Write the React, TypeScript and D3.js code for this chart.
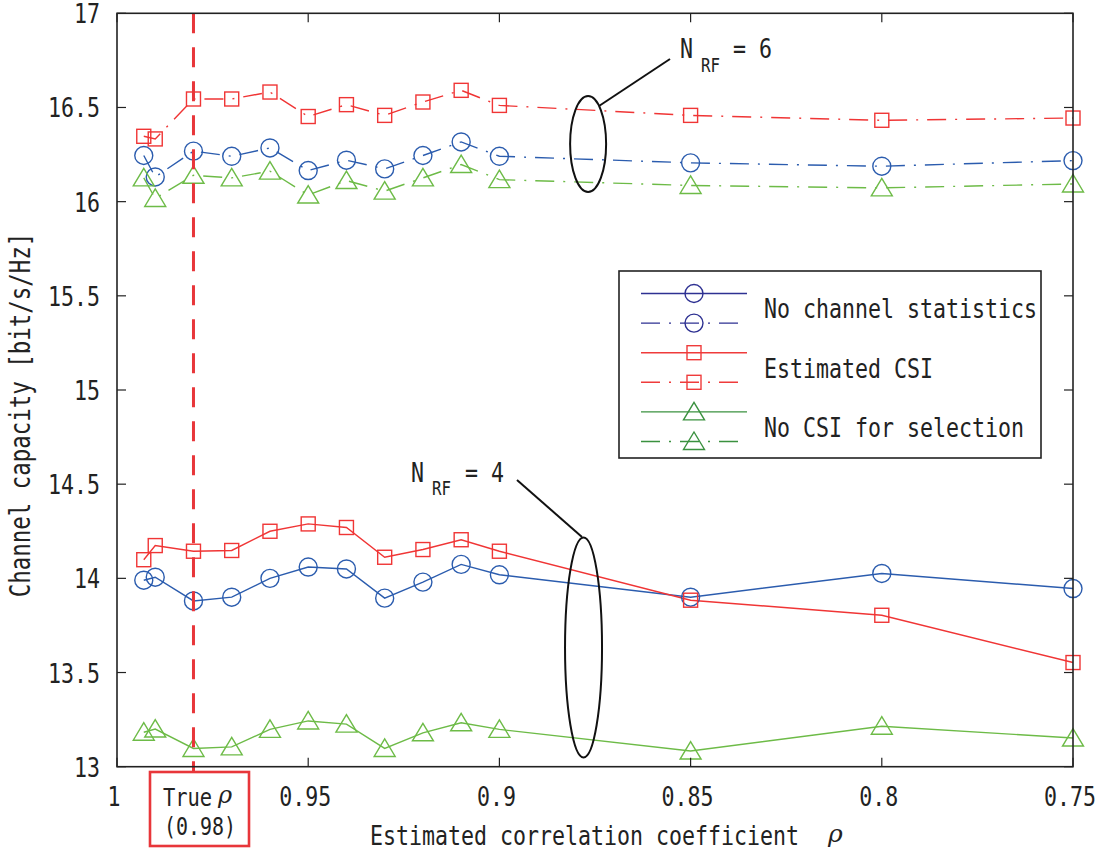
import React from "react";
import * as d3 from "d3";

// ---------- data ----------
const rhoEstimated = [0.993, 0.99, 0.98, 0.97, 0.96, 0.95, 0.94, 0.93, 0.92, 0.91, 0.9, 0.85, 0.8, 0.75];

// N_RF = 4
const nrf4NoStats = [13.99, 14.006, 13.88, 13.9, 14.0, 14.06, 14.05, 13.895, 13.98, 14.074, 14.019, 13.9, 14.026, 13.946];
const nrf4EstCSI = [14.099, 14.174, 14.144, 14.148, 14.25, 14.289, 14.27, 14.112, 14.153, 14.205, 14.144, 13.884, 13.804, 13.553];
const nrf4NoCSI = [13.183, 13.2, 13.097, 13.105, 13.198, 13.243, 13.226, 13.097, 13.18, 13.233, 13.198, 13.083, 13.215, 13.152];

// N_RF = 6
const nrf6NoStats = [16.245, 16.131, 16.268, 16.241, 16.285, 16.165, 16.22, 16.174, 16.245, 16.317, 16.241, 16.206, 16.188, 16.218];
const nrf6EstCSI = [16.347, 16.333, 16.545, 16.545, 16.582, 16.452, 16.515, 16.458, 16.529, 16.591, 16.511, 16.458, 16.432, 16.444];
const nrf6NoCSI = [16.126, 16.017, 16.14, 16.126, 16.162, 16.035, 16.112, 16.056, 16.126, 16.197, 16.117, 16.086, 16.073, 16.094];

const xTicks = [1, 0.95, 0.9, 0.85, 0.8, 0.75];
const xTickLabels = ["1", "0.95", "0.9", "0.85", "0.8", "0.75"];
const yTicks = [13, 13.5, 14, 14.5, 15, 15.5, 16, 16.5, 17];
const yTickLabels = ["13", "13.5", "14", "14.5", "15", "15.5", "16", "16.5", "17"];

const legendLabels = ["No channel statistics", "Estimated CSI", "No CSI for selection"];
const trueRho = 0.98;

// ---------- style ----------
const BLUE = "#2b5cae";
const RED = "#f03535";
const GREEN = "#6dbb47";
const L_BLUE = "#2e3192";
const L_RED = "#ef3b3b";
const L_GREEN = "#3a913f";
const DASHDOT = "19,9,2,9";
const FONT = "'DejaVu Sans Mono', 'Liberation Mono', monospace";
const SERIF = "'DejaVu Serif', 'Liberation Serif', serif";

const W = 1104;
const H = 852;
const x = d3.scaleLinear().domain([1, 0.75]).range([117, 1073]);
const y = d3.scaleLinear().domain([13, 17]).range([766.7, 13.3]);

type MarkerKind = "circle" | "square" | "triangle";

function Marker({ kind, cx, cy, color }: { kind: MarkerKind; cx: number; cy: number; color: string }) {
  const common = { fill: "none", stroke: color, strokeWidth: 1.4 };
  if (kind === "circle") return <circle cx={cx} cy={cy} r={9} {...common} />;
  if (kind === "square") return <rect x={cx - 7} y={cy - 7} width={14} height={14} {...common} />;
  return <path d={`M${cx},${cy - 9.5}L${cx + 10.5},${cy + 8}L${cx - 10.5},${cy + 8}Z`} {...common} />;
}

// Monospace text: natural advance = cw px, glyphs stretched vertically to look tall/narrow
function MText({
  x: tx,
  y: ty,
  text,
  anchor = "start",
  cw = 13,
  sy = 1.25,
  rotate = 0,
}: {
  x: number;
  y: number;
  text: string;
  anchor?: "start" | "middle" | "end";
  cw?: number;
  sy?: number;
  rotate?: number;
}) {
  const size = cw / 0.602;
  return (
    <text
      x={0}
      y={0}
      fontFamily={FONT}
      fontSize={size}
      textAnchor={anchor}
      fill="#222"
      transform={`translate(${tx},${ty}) rotate(${rotate}) scale(1,${sy})`}
    >
      {text}
    </text>
  );
}

const series = [
  { values: nrf4NoStats, color: BLUE, marker: "circle" as MarkerKind, dash: undefined as string | undefined },
  { values: nrf4EstCSI, color: RED, marker: "square" as MarkerKind, dash: undefined },
  { values: nrf4NoCSI, color: GREEN, marker: "triangle" as MarkerKind, dash: undefined },
  { values: nrf6NoStats, color: BLUE, marker: "circle" as MarkerKind, dash: DASHDOT },
  { values: nrf6EstCSI, color: RED, marker: "square" as MarkerKind, dash: DASHDOT },
  { values: nrf6NoCSI, color: GREEN, marker: "triangle" as MarkerKind, dash: DASHDOT },
];

export default function App() {
  const line = d3
    .line<number>()
    .x((_, i) => x(rhoEstimated[i]))
    .y((d) => y(d));

  const left = x(1);
  const right = x(0.75);
  const top = y(17);
  const bottom = y(13);

  const legendEntries = [
    { color: L_BLUE, marker: "circle" as MarkerKind, dash: undefined as string | undefined },
    { color: L_BLUE, marker: "circle" as MarkerKind, dash: DASHDOT },
    { color: L_RED, marker: "square" as MarkerKind, dash: undefined },
    { color: L_RED, marker: "square" as MarkerKind, dash: DASHDOT },
    { color: L_GREEN, marker: "triangle" as MarkerKind, dash: undefined },
    { color: L_GREEN, marker: "triangle" as MarkerKind, dash: DASHDOT },
  ];
  const lgX = 619;
  const lgY = 271;
  const rowY = (i: number) => lgY + 22.5 + i * 29.6;

  const trueX = x(trueRho);

  return (
    <svg width={W} height={H} style={{ position: "absolute", left: 0, top: 0, background: "#fff" }}>
      <rect x={0} y={0} width={W} height={H} fill="#fff" />

      {/* series lines */}
      {series.map((s, i) => (
        <path
          key={"l" + i}
          d={line(s.values) || ""}
          fill="none"
          stroke={s.color}
          strokeWidth={1.4}
          strokeDasharray={s.dash}
        />
      ))}
      {/* markers */}
      {series.map((s, i) =>
        s.values.map((v, j) => (
          <Marker key={`m${i}-${j}`} kind={s.marker} cx={x(rhoEstimated[j])} cy={y(v)} color={s.color} />
        ))
      )}

      {/* true rho marker line */}
      <line x1={trueX} x2={trueX} y1={top} y2={bottom} stroke="#e8363a" strokeWidth={3} strokeDasharray="20,14" />
      <line x1={trueX} x2={trueX} y1={bottom} y2={772} stroke="#e8363a" strokeWidth={3} />

      {/* axes box */}
      <rect x={left} y={top} width={right - left} height={bottom - top} fill="none" stroke="#222" strokeWidth={1.6} />
      {xTicks.map((t, i) => (
        <g key={"xt" + i}>
          <line x1={x(t)} x2={x(t)} y1={bottom} y2={bottom - 9} stroke="#222" strokeWidth={1.2} />
          <line x1={x(t)} x2={x(t)} y1={top} y2={top + 9} stroke="#222" strokeWidth={1.2} />
          <MText x={x(t) - 3} y={806} text={xTickLabels[i]} anchor="middle" />
        </g>
      ))}
      {yTicks.map((t, i) => (
        <g key={"yt" + i}>
          <line x1={left} x2={left + 9} y1={y(t)} y2={y(t)} stroke="#222" strokeWidth={1.2} />
          <line x1={right} x2={right - 9} y1={y(t)} y2={y(t)} stroke="#222" strokeWidth={1.2} />
          <MText x={100} y={y(t) + 10} text={yTickLabels[i]} anchor="end" />
        </g>
      ))}

      {/* axis labels */}
      <MText x={370} y={845} text="Estimated correlation coefficient" />
      <text x={828} y={842} fontFamily={SERIF} fontStyle="italic" fontSize={25} fill="#222">
        ρ
      </text>
      <MText x={30} y={415} text="Channel capacity [bit/s/Hz]" anchor="middle" cw={13.5} rotate={-90} />

      {/* true rho box */}
      <rect x={150} y={772} width={99} height={74} fill="#fff" stroke="#e8363a" strokeWidth={2.6} />
      <MText x={163} y={806} text="True" cw={12.3} />
      <text x={218} y={803} fontFamily={SERIF} fontStyle="italic" fontSize={24} fill="#222">
        ρ
      </text>
      <MText x={200} y={835} text="(0.98)" anchor="middle" cw={12} />

      {/* N_RF = 6 annotation */}
      <ellipse cx={x(0.8768)} cy={y(16.306)} rx={18} ry={48} fill="none" stroke="#111" strokeWidth={2} />
      <line x1={599} y1={106} x2={670} y2={59} stroke="#111" strokeWidth={2} />
      <MText x={680} y={58} text="N" />
      <MText x={701} y={72} text="RF" cw={9.5} />
      <MText x={733} y={58} text="= 6" />

      {/* N_RF = 4 annotation */}
      <ellipse cx={x(0.878)} cy={y(13.633)} rx={18.5} ry={110} fill="none" stroke="#111" strokeWidth={2} />
      <line x1={517} y1={480} x2={582} y2={537} stroke="#111" strokeWidth={2} />
      <MText x={411} y={482} text="N" />
      <MText x={432} y={495} text="RF" cw={9.5} />
      <MText x={465} y={482} text="= 4" />

      {/* legend */}
      <rect x={lgX} y={lgY} width={422} height={187} fill="#fff" stroke="#222" strokeWidth={1.6} />
      {legendEntries.map((e, i) => (
        <g key={"lg" + i}>
          <line
            x1={641}
            x2={747}
            y1={rowY(i)}
            y2={rowY(i)}
            stroke={e.color}
            strokeWidth={1.4}
            strokeDasharray={e.dash}
          />
          <Marker kind={e.marker} cx={694} cy={rowY(i)} color={e.color} />
        </g>
      ))}
      {legendLabels.map((t, i) => (
        <MText key={"lt" + i} x={764} y={(rowY(2 * i) + rowY(2 * i + 1)) / 2 + 10} text={t} />
      ))}
    </svg>
  );
}
